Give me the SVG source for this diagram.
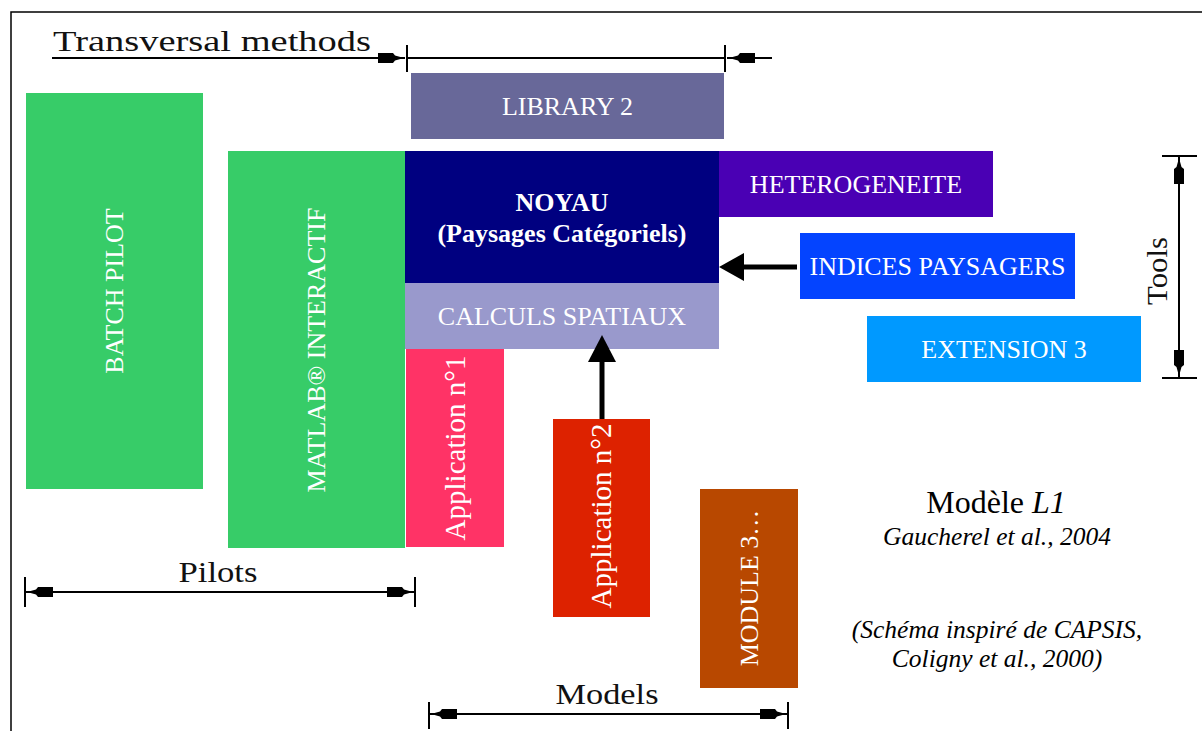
<svg xmlns="http://www.w3.org/2000/svg" xmlns:xlink="http://www.w3.org/1999/xlink" width="1202" height="731" viewBox="0 0 1202 731">
<style>
.lbl{font-family:"Liberation Serif","Times New Roman",serif;font-size:26px;fill:#ffffff;text-anchor:middle}
.big{font-size:29px}
.bold{font-weight:bold}
.dim{font-family:"Liberation Serif","Times New Roman",serif;font-size:29px;fill:#111;text-anchor:middle}
.note{font-family:"Liberation Serif","Times New Roman",serif;font-size:25.5px;fill:#000;text-anchor:middle}
.it{font-style:italic}
.dl{stroke:#000;stroke-width:2;fill:none}
.conn{stroke:#000;stroke-width:5;fill:none}
</style>
<defs>
<path id="dimArrow" d="M0,0 L-9,-2.5 L-11,-5 L-26,-5 L-26,5 L-11,5 L-9,2.5 Z" fill="#000"/>
</defs>
<rect width="1202" height="731" fill="#fff"/>
<path d="M11,731 V12 H1202" stroke="#000" stroke-width="1.5" fill="none"/>

<g id="batch-pilot"><rect x="26" y="93" width="177" height="396" fill="#37cc68"/><text class="lbl" transform="translate(123,291) rotate(-90)">BATCH PILOT</text></g>
<g id="matlab-interactif"><rect x="228" y="151" width="177" height="397" fill="#37cc68"/><text class="lbl" transform="translate(325,350) rotate(-90)">MATLAB® INTERACTIF</text></g>
<g id="library-2"><rect x="411" y="73" width="313" height="66" fill="#686899"/><text class="lbl" x="567.5" y="115">LIBRARY 2</text></g>
<g id="noyau"><rect x="405" y="151" width="314" height="132" fill="#000080"/><text class="lbl bold" x="562" y="211">NOYAU</text><text class="lbl bold" x="562" y="242">(Paysages Catégoriels)</text></g>
<g id="calculs-spatiaux"><rect x="405" y="283" width="314" height="66" fill="#9999cc"/><text class="lbl" x="562" y="324.5">CALCULS SPATIAUX</text></g>
<g id="heterogeneite"><rect x="719" y="151" width="274" height="66" fill="#4a00b4"/><text class="lbl" x="856" y="192.5">HETEROGENEITE</text></g>
<g id="indices-paysagers"><rect x="800" y="233" width="275" height="66" fill="#0444ff"/><text class="lbl" x="937.5" y="274.5">INDICES PAYSAGERS</text></g>
<g id="extension-3"><rect x="867" y="316" width="274" height="66" fill="#0099ff"/><text class="lbl" x="1004" y="357.5">EXTENSION 3</text></g>
<g id="application-1"><rect x="406" y="349" width="98" height="198" fill="#ff3366"/><text class="lbl big" transform="translate(465,448) rotate(-90)">Application n°1</text></g>
<g id="application-2"><rect x="553" y="419" width="97" height="198" fill="#dd2200"/><text class="lbl big" transform="translate(611,516) rotate(-90)">Application n°2</text></g>
<g id="module-3"><rect x="700" y="489" width="98" height="199" fill="#b84800"/><text class="lbl" transform="translate(757.5,588) rotate(-90)">MODULE 3…</text></g>

<g id="connectors">
<line class="conn" x1="797" y1="267" x2="740" y2="267"/>
<polygon points="719,267 744,253 744,281" fill="#000"/>
<line class="conn" x1="602" y1="419" x2="602" y2="358"/>
<polygon points="602,335 588,362 616,362" fill="#000"/>
</g>

<g id="dimensions">
<text class="dim" x="212" y="51" textLength="318" lengthAdjust="spacingAndGlyphs">Transversal methods</text>
<line class="dl" x1="52" y1="58" x2="405" y2="58"/>
<use href="#dimArrow" transform="translate(404,58)"/>
<line class="dl" x1="407" y1="45" x2="407" y2="72"/>
<line class="dl" x1="407" y1="58" x2="725" y2="58"/>
<line class="dl" x1="725" y1="45" x2="725" y2="72"/>
<line class="dl" x1="727" y1="58" x2="772" y2="58"/>
<use href="#dimArrow" transform="translate(729,58) rotate(180)"/>

<text class="dim" x="218" y="582" textLength="79" lengthAdjust="spacingAndGlyphs">Pilots</text>
<line class="dl" x1="25" y1="577" x2="25" y2="607"/>
<line class="dl" x1="415" y1="577" x2="415" y2="607"/>
<line class="dl" x1="25" y1="592" x2="415" y2="592"/>
<use href="#dimArrow" transform="translate(27,592) rotate(180)"/>
<use href="#dimArrow" transform="translate(413,592)"/>

<text class="dim" x="607" y="704" textLength="103" lengthAdjust="spacingAndGlyphs">Models</text>
<line class="dl" x1="429" y1="702" x2="429" y2="729"/>
<line class="dl" x1="788" y1="702" x2="788" y2="729"/>
<line class="dl" x1="429" y1="714" x2="788" y2="714"/>
<use href="#dimArrow" transform="translate(431,714) rotate(180)"/>
<use href="#dimArrow" transform="translate(786,714)"/>

<text class="dim" transform="translate(1167,271) rotate(-90)" textLength="68" lengthAdjust="spacingAndGlyphs">Tools</text>
<line class="dl" x1="1179" y1="156" x2="1179" y2="378"/>
<line class="dl" x1="1162" y1="156" x2="1197" y2="156"/>
<line class="dl" x1="1162" y1="378" x2="1197" y2="378"/>
<use href="#dimArrow" transform="translate(1179,158) rotate(-90)"/>
<use href="#dimArrow" transform="translate(1179,376) rotate(90)"/>
</g>

<g id="caption">
<text class="note" x="996" y="513" style="font-size:32px">Modèle <tspan class="it">L1</tspan></text>
<text class="note it" x="997" y="545">Gaucherel et al., 2004</text>
<text class="note it" x="997" y="638">(Schéma inspiré de CAPSIS,</text>
<text class="note it" x="997" y="667">Coligny et al., 2000)</text>
</g>
</svg>
